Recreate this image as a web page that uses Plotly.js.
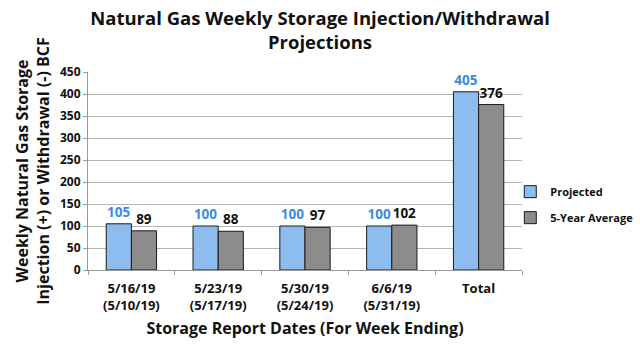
<!DOCTYPE html>
<html>
<head>
<meta charset="utf-8">
<script src="https://cdn.plot.ly/plotly-3.0.1.min.js"></script>
<style>html,body{margin:0;padding:0;background:#fff;}#chart{width:640px;height:351px;}</style>
</head>
<body>
<div id="chart"></div>
<script>
const categories = ["5/16/19<br>(5/10/19)", "5/23/19<br>(5/17/19)", "5/30/19<br>(5/24/19)", "6/6/19<br>(5/31/19)", "Total"];
const projected = [105, 100, 100, 100, 405];
const fiveYearAvg = [89, 88, 97, 102, 376];
const seriesNames = ["Projected", "5-Year Average"];

const font = "Open Sans, Lato, sans-serif";

const traces = [
  {
    type: "bar", name: seriesNames[0], x: categories, y: projected, legendgroup: "p",
    marker: {color: "#8dbcef", line: {color: "#1a1a1a", width: 1}},
    text: projected.map(String), textposition: "outside", cliponaxis: false,
    constraintext: "none",
    textfont: {family: font, size: 13.5, color: "#3a8ce0", weight: "bold"}
  },
  {
    type: "bar", name: seriesNames[1], x: categories, y: fiveYearAvg, legendgroup: "a",
    marker: {color: "#8c8c8c", line: {color: "#1a1a1a", width: 1}},
    text: fiveYearAvg.map(String), textposition: "outside", cliponaxis: false,
    constraintext: "none",
    textfont: {family: font, size: 13.5, color: "#111", weight: "bold"}
  }
];

const layout = {
  width: 640, height: 351,
  margin: {l: 88, r: 118, t: 72, b: 81, autoexpand: false},
  paper_bgcolor: "#fff", plot_bgcolor: "#fff",
  font: {family: font, color: "#111"},
  title: {
    text: "<b>Natural Gas Weekly Storage Injection/Withdrawal<br>Projections</b>",
    font: {family: font, size: 18.5, color: "#111"},
    x: 0.5, xanchor: "center", y: 0.93, yanchor: "top"
  },
  barmode: "group", bargap: 0.42, bargroupgap: 0,
  showlegend: true,
  legend: {x: 0.973, xanchor: "left", y: 0.33, yanchor: "middle",
    font: {family: font, size: 11, color: "#111", weight: "bold"},
    itemwidth: 30, tracegroupgap: 7, bgcolor: "rgba(0,0,0,0)"},
  xaxis: {
    type: "category",
    showline: true, linecolor: "#999", linewidth: 1,
    ticks: "outside", tickson: "boundaries", ticklen: 4, tickcolor: "#999",
    ticklabelstandoff: 6,
    tickfont: {family: font, size: 13, color: "#111", weight: "bold"},
    title: {text: "<b>Storage Report Dates (For Week Ending)</b>",
      font: {family: font, size: 16, color: "#111"}, standoff: 10}
  },
  yaxis: {
    range: [0, 450], dtick: 50,
    showline: true, linecolor: "#999", linewidth: 1,
    ticks: "outside", ticklen: 4, tickcolor: "#999",
    gridcolor: "#b5b5b5", gridwidth: 1, zeroline: false,
    tickfont: {family: font, size: 12, color: "#111", weight: "bold"},
    title: {text: "<b>Weekly Natural Gas Storage<br>Injection (+) or Withdrawal (-) BCF</b>",
      font: {family: font, size: 16, color: "#111"}, standoff: 6}
  }
};

Plotly.newPlot("chart", traces, layout, {displayModeBar: false, staticPlot: true});
</script>
</body>
</html>
